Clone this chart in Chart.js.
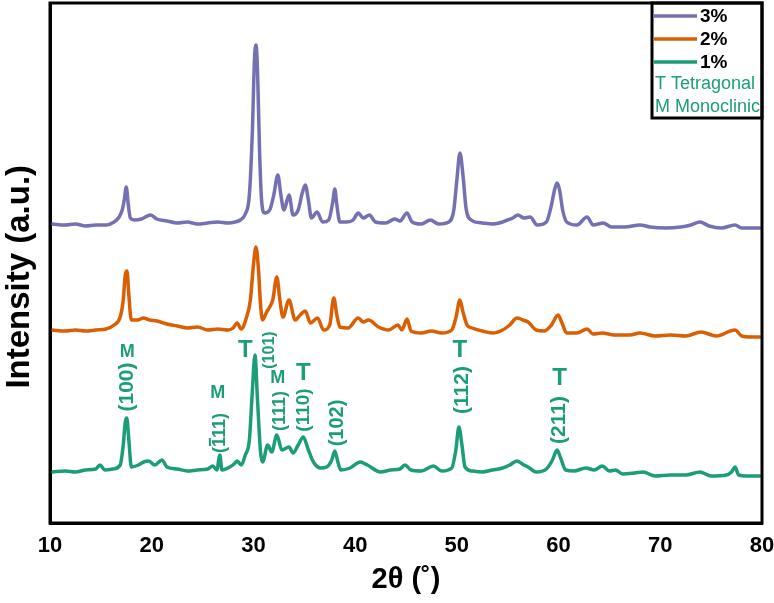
<!DOCTYPE html>
<html>
<head>
<meta charset="utf-8">
<script src="https://cdn.jsdelivr.net/npm/chart.js@4/dist/chart.umd.min.js"></script>
<style>
  html, body { margin: 0; padding: 0; background: #ffffff; }
  #wrap { width: 774px; height: 603px; }
</style>
</head>
<body>
<div id="wrap"><canvas id="c" width="774" height="603"></canvas></div>
<script>
// ---------- DATA ----------
const seriesNames = ['3%', '2%', '1%'];
const phaseNotes = ['T Tetragonal', 'M Monoclinic'];
const xTicks = [10, 20, 30, 40, 50, 60, 70, 80];

const x3 = [10.2,11.5,12.5,13.5,14.5,15.5,16.3,16.8,17.1,17.3,17.5,17.7,17.9,18.3,19.0,19.9,20.5,21.5,22.5,23.5,24.5,25.5,26.5,27.5,28.2,28.7,29.2,29.6,29.9,30.1,30.25,30.4,30.6,30.8,31.1,31.6,32.0,32.4,32.7,33.0,33.5,33.9,34.4,34.8,35.1,35.4,35.7,36.25,36.8,37.4,37.8,38.0,38.2,38.5,39.2,39.8,40.3,40.8,41.4,42.0,43.0,43.9,44.4,45.1,45.6,46.5,47.4,48.2,49.2,49.7,50.0,50.3,50.6,50.9,51.4,52.5,53.5,54.5,55.0,55.5,56.0,56.6,57.2,57.9,58.8,59.3,59.6,59.85,60.1,60.4,60.8,61.8,62.8,63.4,64.4,65.2,66.5,68.0,69.0,70.5,72.0,73.0,73.9,74.8,76.0,77.35,78.0,79.0,79.8];
const y3 = [299,298,299,297,298,298,301,306,313,323,336,318,305,303,304,308,304,302,300,301,299,300,301,300,301,303,309,328,393,463,478,453,373,323,310,313,328,348,328,313,328,308,313,330,338,323,305,311,301,303,321,334,318,301,301,303,310,305,308,301,300,304,302,310,301,299,303,299,301,313,343,370,348,315,303,300,299,301,303,305,308,305,306,298,301,318,333,340,333,313,301,298,306,298,300,296,296,298,296,295,296,298,301,297,295,298,295,295,295];

const x2 = [10.2,11.5,12.5,13.5,14.5,15.5,16.3,16.9,17.2,17.4,17.57,17.75,18.0,18.6,19.2,19.8,20.5,21.5,22.5,23.5,24.5,25.5,26.5,27.5,28.0,28.4,28.8,29.3,29.7,30.0,30.25,30.5,30.7,30.9,31.3,31.6,31.9,32.3,32.6,32.9,33.5,34.1,34.6,35.1,35.6,36.3,36.9,37.5,37.9,38.2,38.5,39.3,40.3,40.8,41.3,42.3,43.3,44.2,44.6,45.1,45.5,46.5,47.5,48.5,49.5,49.9,50.3,50.6,51.0,51.5,52.5,53.5,54.5,55.2,55.9,56.5,57.0,57.8,58.6,59.3,59.95,60.3,60.8,61.8,62.8,63.4,64.3,65.5,67.0,68.0,69.5,71.0,72.5,74.0,75.5,77.35,78.0,79.0,79.8];
const y2 = [193,192,193,192,193,194,198,206,223,248,252,228,203,203,205,203,202,199,197,195,196,193,194,193,195,200,194,205,223,258,276,253,218,203,211,216,223,246,223,206,223,203,208,212,200,205,193,198,225,208,196,195,205,201,203,196,193,198,193,204,192,190,192,190,193,205,223,211,198,195,192,190,193,198,205,203,201,193,192,198,208,201,190,190,194,189,190,188,188,190,187,188,187,191,187,193,187,186,186];

const x1 = [10.2,11.5,12.5,13.5,14.5,14.9,15.4,16.2,16.9,17.2,17.4,17.55,17.75,18.0,18.7,19.2,19.7,20.3,21.0,21.5,22.5,23.5,24.5,25.5,26.0,26.4,26.7,26.9,27.5,28.1,28.4,28.8,29.2,29.6,29.9,30.15,30.4,30.7,30.9,31.4,31.8,32.3,32.8,33.5,33.9,34.4,34.9,35.4,35.9,36.6,37.2,37.7,38.0,38.3,38.6,39.5,40.5,41.2,42.5,43.5,44.4,44.9,45.5,46.5,47.7,48.5,49.5,49.9,50.2,50.5,50.8,51.5,52.5,53.5,54.5,55.2,55.9,56.6,57.0,57.8,58.8,59.4,59.85,60.2,60.7,61.5,62.7,63.5,64.3,65.0,65.6,66.3,67.5,68.3,69.5,71.0,72.5,73.9,75.0,76.5,77.0,77.35,77.7,78.5,79.8];
const y1 = [51,52,51,53,54,58,53,54,58,78,101,105,83,56,58,61,62,58,63,56,54,52,53,54,57,53,68,53,55,59,62,58,68,83,133,168,123,71,61,78,71,88,73,76,70,78,86,73,61,55,56,63,72,61,53,55,61,58,51,53,54,58,53,52,57,52,55,73,96,78,56,52,51,53,55,58,62,58,56,51,54,63,73,65,53,52,55,53,57,52,53,49,50,51,47,48,48,51,47,48,51,56,48,47,47];

// peak labels (text, 2θ position, intensity position)
const annText = ['M','(100)','M','(111)','T','(101)','M','(111)','T','(110)','(102)','T','(112)','T','(211)'];
const annX    = [17.6,17.6,26.5,26.7,29.2,31.6,32.4,32.6,34.9,34.9,38.3,50.3,50.5,60.1,60.1];
const annY    = [171,136,130,90,173,173,145,112,150,113,100,173,133,145,103];

// ---------- STYLE ----------
const COLORS = ['#7570b3', '#d95f02', '#1b9e77'];
const TEAL = '#1b9e77';
const annStyle = [
  {size:18, rot:false}, {size:21, rot:true}, {size:18, rot:false}, {size:18, rot:true, bar:true},
  {size:24, rot:false}, {size:16, rot:true}, {size:18, rot:false}, {size:18, rot:true},
  {size:24, rot:false}, {size:19, rot:true}, {size:20, rot:true}, {size:24, rot:false},
  {size:21, rot:true}, {size:24, rot:false}, {size:21, rot:true}
];
const SANS = "'Liberation Sans', Arial, sans-serif";
const NARROW = "'Liberation Sans Narrow', 'Arial Narrow', 'Liberation Sans', sans-serif";

function pts(xs, ys) { return xs.map((x, i) => ({x: x, y: ys[i]})); }

const framePlugin = {
  id: 'frameAndNotes',
  afterDatasetsDraw(chart) {
    const ctx = chart.ctx;
    const xs = chart.scales.x, ys = chart.scales.y;
    ctx.save();
    ctx.fillStyle = TEAL;
    ctx.strokeStyle = TEAL;
    annText.forEach((t, i) => {
      const st = annStyle[i];
      const px = xs.getPixelForValue(annX[i]);
      const py = ys.getPixelForValue(annY[i]);
      ctx.save();
      ctx.font = 'bold ' + st.size + 'px ' + SANS;
      ctx.textAlign = 'center';
      ctx.textBaseline = 'middle';
      ctx.translate(px, py);
      if (st.rot) ctx.rotate(-Math.PI / 2);
      ctx.fillText(t, 0, 0);
      if (st.bar) {
        const w = ctx.measureText(t).width;
        const wp = ctx.measureText('(').width;
        const w1 = ctx.measureText('1').width;
        const s = -w / 2 + wp;
        ctx.lineWidth = 2;
        ctx.beginPath();
        ctx.moveTo(s + 1, -st.size * 0.5 - 1);
        ctx.lineTo(s + w1 - 1, -st.size * 0.5 - 1);
        ctx.stroke();
      }
      ctx.restore();
    });
    ctx.restore();
  },
  afterDraw(chart) {
    const ctx = chart.ctx;
    const a = chart.chartArea;
    ctx.save();
    const bw = 110, bh = 115;
    const bx = a.right - bw, by = a.top;
    ctx.fillStyle = '#ffffff';
    ctx.fillRect(bx, by, bw, bh);
    ctx.lineWidth = 3;
    ctx.strokeStyle = '#000000';
    ctx.strokeRect(bx, by, bw, bh);
    seriesNames.forEach((n, i) => {
      const yy = by + 13 + i * 23;
      ctx.strokeStyle = COLORS[i];
      ctx.lineWidth = 3.5;
      ctx.beginPath();
      ctx.moveTo(bx + 2, yy);
      ctx.lineTo(bx + 45, yy);
      ctx.stroke();
      ctx.fillStyle = '#000000';
      ctx.font = 'bold 19px ' + SANS;
      ctx.textAlign = 'left';
      ctx.textBaseline = 'middle';
      ctx.fillText(n, bx + 48, yy + 1);
    });
    ctx.fillStyle = TEAL;
    ctx.font = '18px ' + SANS;
    phaseNotes.forEach((n, i) => {
      ctx.fillText(n, bx + 3, by + 81 + i * 23);
    });
    ctx.lineWidth = 3;
    ctx.strokeStyle = '#000000';
    ctx.strokeRect(a.left, a.top, a.right - a.left, a.bottom - a.top);
    ctx.restore();
  }
};

new Chart(document.getElementById('c'), {
  type: 'line',
  data: {
    datasets: [
      {label: seriesNames[0], data: pts(x3, y3), borderColor: COLORS[0]},
      {label: seriesNames[1], data: pts(x2, y2), borderColor: COLORS[1]},
      {label: seriesNames[2], data: pts(x1, y1), borderColor: COLORS[2]}
    ].map(d => Object.assign(d, {
      borderWidth: 3.5, pointRadius: 0, fill: false,
      cubicInterpolationMode: 'monotone', borderJoinStyle: 'round', borderCapStyle: 'round'
    }))
  },
  options: {
    responsive: false,
    animation: false,
    devicePixelRatio: 1,
    layout: {padding: {top: 3, right: 12, left: 0, bottom: 0}},
    plugins: {legend: {display: false}, tooltip: {enabled: false}},
    scales: {
      x: {
        type: 'linear', min: 10, max: 80,
        afterBuildTicks: (s) => { s.ticks = xTicks.map(v => ({value: v})); },
        afterFit: (s) => { s.height = 80; s.paddingRight = 0; s.paddingLeft = 0; },
        ticks: {color: '#000', font: {family: NARROW, size: 22, weight: 'bold'}, padding: 10, maxRotation: 0},
        grid: {display: false, drawTicks: false},
        border: {display: true, color: '#000', width: 3},
        title: {display: true, text: '2θ (˚)', color: '#000', font: {family: SANS, size: 29, weight: 'bold'}, padding: {top: 2, bottom: 6}}
      },
      y: {
        min: 0, max: 520,
        afterFit: (s) => { s.width = 50; },
        ticks: {display: false},
        grid: {display: false, drawTicks: false},
        border: {display: true, color: '#000', width: 3},
        title: {display: true, text: 'Intensity (a.u.)   ', color: '#000', font: {family: SANS, size: 33, weight: 'bold'}, padding: {top: 0, bottom: 0}}
      }
    }
  },
  plugins: [framePlugin]
});
</script>
</body>
</html>
